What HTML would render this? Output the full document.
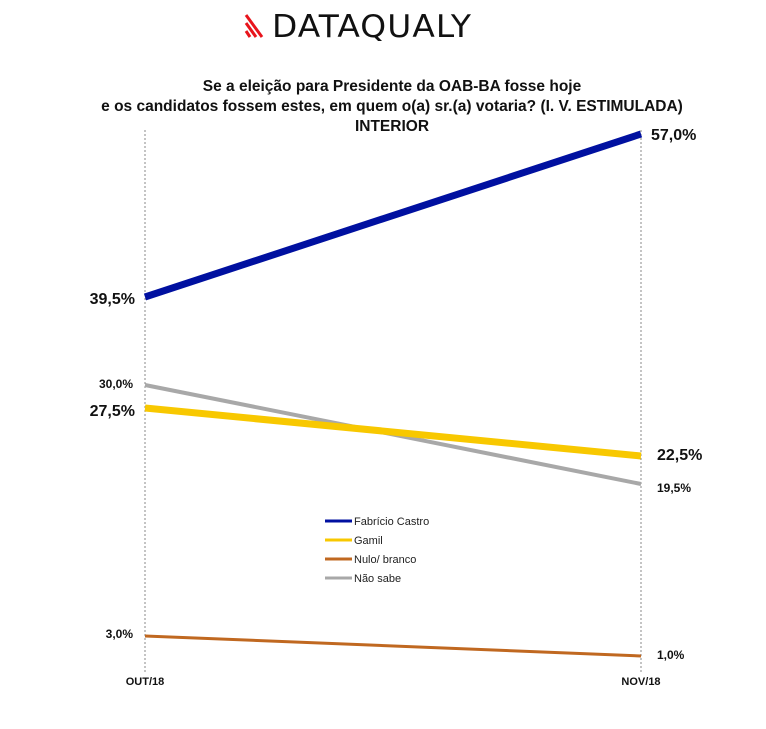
<!DOCTYPE html><html><head><style>body{margin:0;background:#fff}</style></head><body>
<svg width="766" height="724" xmlns="http://www.w3.org/2000/svg" font-family="Liberation Sans, sans-serif">
<rect width="766" height="724" fill="#fff"/>
<g stroke="#e8141c" stroke-width="3"><line x1="246" y1="15" x2="262" y2="37"/><line x1="246" y1="23" x2="256" y2="37"/><line x1="246" y1="31" x2="250" y2="37"/></g>
<text x="272" y="37" font-size="31" letter-spacing="1" fill="#111" font-family="DejaVu Sans, sans-serif" font-weight="normal" textLength="200" lengthAdjust="spacingAndGlyphs">DATAQUALY</text>
<g font-weight="bold" font-size="15.5" text-anchor="middle" fill="#111">
<text x="392" y="91">Se a eleição para Presidente da OAB-BA fosse hoje</text>
<text x="392" y="111">e os candidatos fossem estes, em quem o(a) sr.(a) votaria? (I. V. ESTIMULADA)</text>
<text x="392" y="131">INTERIOR</text></g>
<g stroke="#888" stroke-dasharray="2,2" stroke-width="1"><line x1="145" y1="130" x2="145" y2="672"/><line x1="641" y1="130" x2="641" y2="672"/></g>
<line x1="145" y1="297" x2="641" y2="134" stroke="#0010a0" stroke-width="7"/>
<line x1="145" y1="385" x2="641" y2="484" stroke="#a8a8a8" stroke-width="4"/>
<line x1="145" y1="408" x2="641" y2="456" stroke="#f8c800" stroke-width="7"/>
<line x1="145" y1="636" x2="641" y2="656" stroke="#c06820" stroke-width="3"/>
<g font-weight="bold" fill="#111">
<text x="135" y="304" font-size="16" text-anchor="end">39,5%</text>
<text x="135" y="416" font-size="16" text-anchor="end">27,5%</text>
<text x="133" y="388" font-size="12" text-anchor="end">30,0%</text>
<text x="133" y="638" font-size="12" text-anchor="end">3,0%</text>
<text x="651" y="140" font-size="16">57,0%</text>
<text x="657" y="460" font-size="16">22,5%</text>
<text x="657" y="492" font-size="12">19,5%</text>
<text x="657" y="659" font-size="12">1,0%</text>
<text x="145" y="685" font-size="11" text-anchor="middle">OUT/18</text>
<text x="641" y="685" font-size="11" text-anchor="middle">NOV/18</text></g>
<g font-size="11" fill="#222">
<line x1="325" y1="521" x2="352" y2="521" stroke="#0010a0" stroke-width="3"/><text x="354" y="525">Fabrício Castro</text>
<line x1="325" y1="540" x2="352" y2="540" stroke="#f8c800" stroke-width="3"/><text x="354" y="544">Gamil</text>
<line x1="325" y1="559" x2="352" y2="559" stroke="#c06820" stroke-width="3"/><text x="354" y="563">Nulo/ branco</text>
<line x1="325" y1="578" x2="352" y2="578" stroke="#a8a8a8" stroke-width="3"/><text x="354" y="582">Não sabe</text></g>
</svg></body></html>
